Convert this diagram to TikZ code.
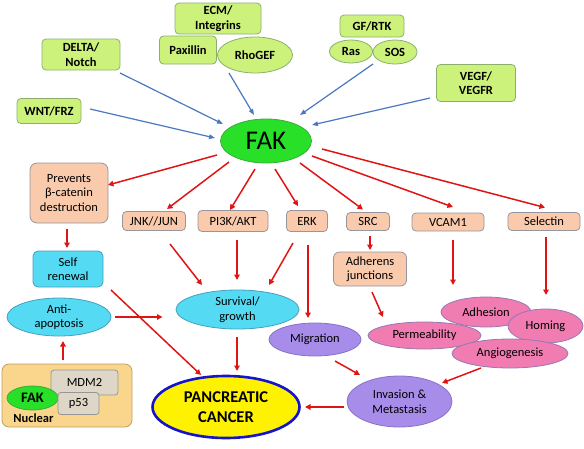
\documentclass[tikz,border=0pt]{standalone}
\usepackage{fontspec}
\setmainfont{Carlito}
\usetikzlibrary{shapes.geometric,arrows.meta,calc}
\definecolor{lgreen}{RGB}{204,242,124}
\definecolor{lgreenb}{RGB}{140,175,110}
\definecolor{fakgreen}{RGB}{40,224,40}
\definecolor{fakgreenb}{RGB}{60,170,60}
\definecolor{salmon}{RGB}{250,202,172}
\definecolor{salmonb}{RGB}{150,150,160}
\definecolor{cyanf}{RGB}{84,218,242}
\definecolor{cyanb}{RGB}{70,160,190}
\definecolor{pinkf}{RGB}{240,124,178}
\definecolor{pinkb}{RGB}{150,120,180}
\definecolor{purpf}{RGB}{168,140,234}
\definecolor{purpb}{RGB}{130,115,200}
\definecolor{nucf}{RGB}{250,214,140}
\definecolor{nucb}{RGB}{190,160,100}
\definecolor{grayf}{RGB}{222,214,198}
\definecolor{grayb}{RGB}{150,150,150}
\definecolor{arrred}{RGB}{225,20,20}
\definecolor{arrblue}{RGB}{74,120,192}
\definecolor{pancb}{RGB}{20,20,200}
\tikzset{
  base/.style={align=center, inner sep=0pt, line width=0.8pt, font=\fontsize{12.5}{14.5}\selectfont},
  boldbase/.style={base, font=\bfseries\fontsize{12.5}{14.5}\selectfont},
  gbox/.style={boldbase, rectangle, rounded corners=4pt, fill=lgreen, draw=lgreenb},
  gell/.style={boldbase, ellipse, fill=lgreen, draw=lgreenb},
  sbox/.style={base, rectangle, rounded corners=4pt, fill=salmon, draw=salmonb},
  cbox/.style={base, rectangle, rounded corners=5pt, fill=cyanf, draw=cyanb},
  cell/.style={base, ellipse, fill=cyanf, draw=cyanb},
  mell/.style={base, ellipse, fill=pinkf, draw=pinkb},
  pell/.style={base, ellipse, fill=purpf, draw=purpb},
  grbox/.style={base, rectangle, rounded corners=3pt, fill=grayf, draw=grayb},
  redarr/.style={draw=arrred, line width=1.5pt, -{Triangle[length=5.5pt,width=5.5pt]}},
  bluearr/.style={draw=arrblue, line width=1.2pt, -{Triangle[length=6pt,width=4.5pt]}},
}
\begin{document}
\begin{tikzpicture}[x=1pt,y=-1pt]
\useasboundingbox (0,0) rectangle (584,448);
% top green inputs
\node[gbox, minimum width=86pt, minimum height=31pt] (ecm) at (218,18.5) {ECM/\\Integrins};
\node[gbox, minimum width=57pt, minimum height=28pt] (pax) at (188,50) {Paxillin};
\node[gell, minimum width=75pt, minimum height=36pt] (rho) at (255,55) {RhoGEF};
\node[gbox, minimum width=78pt, minimum height=31pt] (delta) at (81,54.5) {DELTA/\\Notch};
\node[gbox, minimum width=64pt, minimum height=25pt] (wnt) at (49,111) {WNT/FRZ};
\node[gbox, minimum width=64pt, minimum height=22pt] (gf) at (372,26) {GF/RTK};
\node[gell, minimum width=43pt, minimum height=23pt] (ras) at (351,51.5) {Ras};
\node[gell, minimum width=44pt, minimum height=24pt] (sos) at (395,52) {SOS};
\node[gbox, minimum width=79pt, minimum height=37pt] (vegf) at (476,83) {VEGF/\\VEGFR};
% FAK
\node[ellipse, fill=fakgreen, draw=fakgreenb, line width=0.8pt, inner sep=0pt, minimum width=91pt, minimum height=44pt, font=\fontsize{27}{30}\selectfont] (fak) at (266,141) {FAK};
% second row
\node[sbox, minimum width=78pt, minimum height=60pt, rounded corners=7pt] (prev) at (69,193) {Prevents\\β-catenin\\destruction};
\node[sbox, minimum width=63pt, minimum height=19pt] (jnk) at (154,221) {JNK//JUN};
\node[sbox, minimum width=70pt, minimum height=21pt] (pi3k) at (233,221) {PI3K/AKT};
\node[sbox, minimum width=41pt, minimum height=21pt] (erk) at (307,221) {ERK};
\node[sbox, minimum width=43pt, minimum height=18pt] (src) at (368,221.5) {SRC};
\node[sbox, minimum width=72pt, minimum height=18pt] (vcam) at (448,222) {VCAM1};
\node[sbox, minimum width=72pt, minimum height=18pt] (sel) at (544,221.5) {Selectin};
% lower
\node[cbox, minimum width=70pt, minimum height=36pt] (self) at (68,269) {Self\\renewal};
\node[sbox, minimum width=73pt, minimum height=34pt, rounded corners=6pt] (adj) at (370,269) {Adherens\\junctions};
\node[cell, minimum width=104pt, minimum height=38pt] (anti) at (59,317) {Anti-\\apoptosis};
\node[cell, minimum width=123pt, minimum height=39pt] (surv) at (237.5,309.5) {Survival/\\growth};
\node[pell, minimum width=92pt, minimum height=33pt] (mig) at (315,339.5) {Migration};
\node[mell, minimum width=90pt, minimum height=30pt] (adh) at (486,312) {Adhesion};
\node[mell, minimum width=75pt, minimum height=34pt] (hom) at (545.5,326) {Homing};
\node[mell, minimum width=113pt, minimum height=27pt] (perm) at (424.5,335.5) {Permeability};
\node[mell, minimum width=116pt, minimum height=29pt] (ang) at (510,353.5) {Angiogenesis};
\node[pell, minimum width=105pt, minimum height=51pt] (inv) at (399.5,401.5) {Invasion \&\\Metastasis};
\node[ellipse, fill=yellow, draw=pancb, line width=2.6pt, inner sep=0pt, minimum width=147pt, minimum height=62pt, align=center, font=\bfseries\fontsize{16.5}{19.5}\selectfont] (panc) at (226,407) {PANCREATIC\\CANCER};
% nuclear
\node[rectangle, rounded corners=7pt, fill=nucf, draw=nucb, line width=0.8pt, minimum width=130pt, minimum height=63pt, inner sep=0pt] (nuc) at (67,395.5) {};
\node[grbox, minimum width=67pt, minimum height=25pt] (mdm) at (84.5,382.5) {MDM2};
\node[ellipse, fill=fakgreen, draw=fakgreenb, line width=0.8pt, inner sep=0pt, minimum width=51pt, minimum height=24pt, font=\bfseries\fontsize{14.5}{16}\selectfont] (fak2) at (32.5,398) {FAK};
\node[grbox, minimum width=41pt, minimum height=22pt] (p53) at (78.5,403.5) {p53};
\node[boldbase, anchor=west] (nuclbl) at (13,418) {Nuclear};
% blue arrows
\draw[bluearr] ($(delta)+(39,18.5)$) -- ($(fak)+(-43,-17)$);
\draw[bluearr] ($(wnt)+(41,-2)$) -- ($(fak)+(-51,-3)$);
\draw[bluearr] ($(rho)+(-26,18)$) -- ($(fak)+(-12,-26)$);
\draw[bluearr] ($(sos)+(-22,12)$) -- ($(fak)+(34,-26)$);
\draw[bluearr] ($(vegf)+(-46,15)$) -- ($(fak)+(46,-16)$);
% red arrows from FAK
\draw[redarr] ($(fak)+(-49,14)$) -- ($(prev)+(39,-8)$);
\draw[redarr] ($(fak)+(-37,21)$) -- ($(jnk)+(13,-12)$);
\draw[redarr] ($(fak)+(-11,28)$) -- ($(pi3k)+(-3,-11)$);
\draw[redarr] ($(fak)+(9,28)$) -- ($(erk)+(-9,-15)$);
\draw[redarr] ($(fak)+(34,22)$) -- ($(src)+(-5,-12)$);
\draw[redarr] ($(fak)+(46,15)$) -- ($(vcam)+(5,-15)$);
\draw[redarr] ($(fak)+(56,8)$) -- ($(sel)+(1,-14)$);
% other red arrows
\draw[redarr] ($(prev)+(-2,36)$) -- ($(self)+(-1,-21)$);
\draw[redarr] ($(self)+(43,21)$) -- ($(panc)+(-25,-32)$);
\draw[redarr] ($(anti)+(56,0)$) -- ($(surv)+(-75,7.5)$);
\draw[redarr] ($(nuc)+(-4,-35.5)$) -- ($(anti)+(4,24)$);
\draw[redarr] ($(jnk)+(16,23)$) -- ($(surv)+(-35.5,-24.5)$);
\draw[redarr] ($(pi3k)+(4,19)$) -- ($(surv)+(-0.5,-29.5)$);
\draw[redarr] ($(erk)+(-14,22)$) -- ($(surv)+(31.5,-24.5)$);
\draw[redarr] ($(erk)+(1,24)$) -- ($(mig)+(-7,-21.5)$);
\draw[redarr] ($(surv)+(-0.5,27.5)$) -- ($(panc)+(11,-36)$);
\draw[redarr] ($(src)+(2,14.5)$) -- ($(adj)+(0,-19)$);
\draw[redarr] ($(adj)+(2,23)$) -- ($(perm)+(-41.5,-18.5)$);
\draw[redarr] ($(vcam)+(5,18)$) -- ($(adh)+(-33,-27)$);
\draw[redarr] ($(sel)+(2,15.5)$) -- ($(hom)+(0.5,-31)$);
\draw[redarr] ($(mig)+(20,21.5)$) -- ($(inv)+(-39.5,-26.5)$);
\draw[redarr] ($(ang)+(-29,14.5)$) -- ($(inv)+(42.5,-18.5)$);
\draw[redarr] ($(inv)+(-55.5,5.5)$) -- ($(panc)+(79,0)$);
\end{tikzpicture}
\end{document}
